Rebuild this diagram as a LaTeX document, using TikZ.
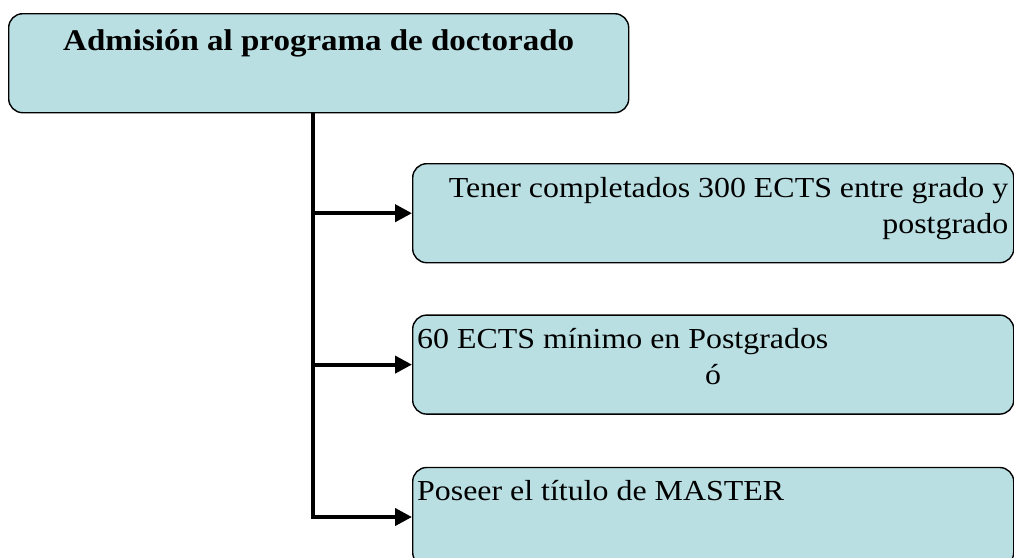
\documentclass[tikz,border=0pt]{standalone}
\usepackage{fontspec}
\setmainfont{Liberation Serif}[FakeStretch=1.1]
\usepackage{tikz}
\usetikzlibrary{positioning, arrows.meta}
\definecolor{kastenblau}{RGB}{185,223,227}
\tikzset{kasten/.style={rectangle,draw,line width=1.4pt,rounded corners=14pt,fill=kastenblau,
		minimum width=601pt, minimum height=99pt, inner sep=0},
	titel/.style={inner sep=0, font=\bfseries\fontsize{30}{36}\selectfont},
	eintrag/.style={inner sep=0, font=\fontsize{29}{36.5}\selectfont},
	pfeil/.style={line width=4pt, -{Triangle[length=17pt,width=17pt]}} }
\begin{document}
\begin{tikzpicture}
	[x=1pt, y=-1pt]
  \useasboundingbox (0,0) rectangle (1014,557);
  \clip (0,0) rectangle (1014,557);

  \node (oben) [kasten, anchor=north west, minimum width=620pt] at (8,13) {};
  \node (k1) [kasten, anchor=north west] at (412,163) {};
  \node (k2) [kasten, below=51pt of k1] {};
  \node (k3) [kasten, below=52pt of k2] {}; % runs off the bottom edge

  \node (t0) [titel, anchor=base] at ([yshift=-37pt]oben.north) {Admisión al programa de doctorado};
  % base of a two-line node is its last line
  \node (t1) [eintrag, anchor=base east, align=right] at ([xshift=-6pt, yshift=-70.5pt]k1.north east)
  	{Tener completados 300 ECTS entre grado y\\postgrado};
  \node (t2) [eintrag, anchor=base west, align=left] at ([xshift=5pt, yshift=-70.5pt]k2.north west)
  	{60 ECTS mínimo en Postgrados\\\hspace*{288pt}ó};
  \node (t3) [eintrag, anchor=base west] at ([xshift=5pt, yshift=-34pt]k3.north west)
  	{Poseer el título de MASTER};

  \coordinate (stamm) at (313,0);
  \draw [pfeil] (oben.south -| stamm) |- (k1.west);
  \draw [pfeil] (oben.south -| stamm) |- (k2.west);
  \draw [pfeil] (oben.south -| stamm) |- (k3.west);
\end{tikzpicture}
\end{document}
